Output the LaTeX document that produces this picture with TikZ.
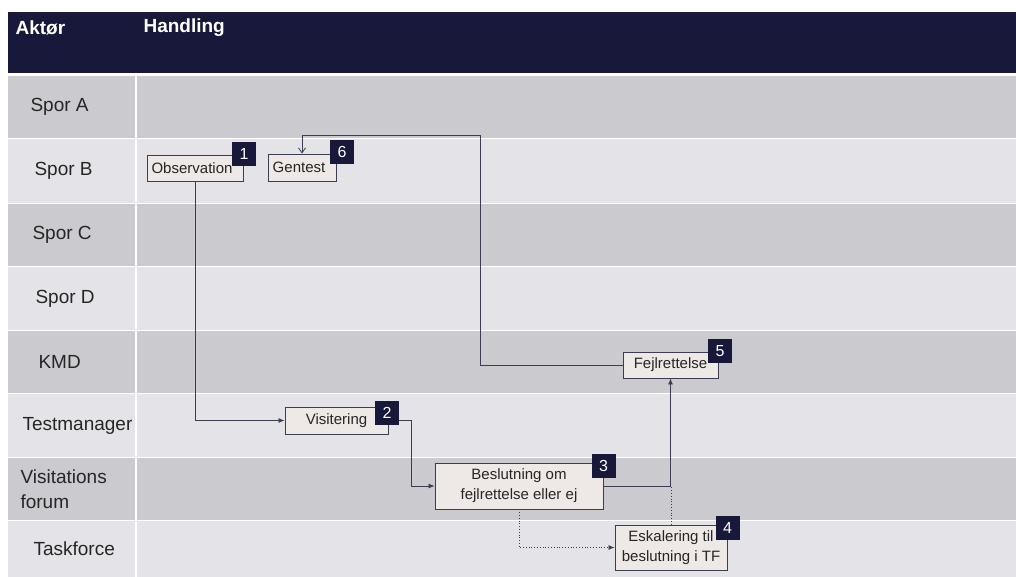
\documentclass[tikz,border=0pt]{standalone}
\usepackage{fontspec}
\setmainfont{Liberation Sans}
\usetikzlibrary{arrows.meta}

\definecolor{navy}{HTML}{18183A}
\definecolor{rowdark}{HTML}{CACACF}
\definecolor{rowlight}{HTML}{E4E4E8}
\definecolor{boxfill}{HTML}{EEE8E6}
\definecolor{boxline}{HTML}{3C3C52}

\begin{document}
\begin{tikzpicture}[x=1pt,y=-1pt,
    actbox/.style={draw=boxline,fill=boxfill,line width=0.9pt,inner sep=0pt,
        align=center,text=black!85,font=\fontsize{15}{20}\selectfont},
    badge/.style={fill=navy,text=white,minimum size=24pt,inner sep=0pt,
        font=\fontsize{16}{16}\selectfont},
    actor/.style={anchor=west,align=left,text=black!85,font=\fontsize{19}{25}\selectfont},
    head/.style={anchor=west,text=white,font=\bfseries\fontsize{19}{19}\selectfont},
    link/.style={draw=boxline,line width=0.8pt,-{Latex[length=6pt,width=5pt]}},
    dotlink/.style={link,dotted}]
    \useasboundingbox (0,0) rectangle (1016,577);

    % header
    \fill[navy] (8,12) rectangle (1016,73);
    \node[head] (aktor) at (12,28) {Aktør};
    \node[head] (handling) at (140,28) {Handling};

    % lanes
    \foreach \top/\bot/\col/\lx/\lab in {
        76/138/rowdark/27/{Spor A},
        139/203/rowlight/31/{Spor B},
        204/266/rowdark/29/{Spor C},
        267/330/rowlight/32/{Spor D},
        331/393/rowdark/35/{KMD},
        394/457/rowlight/19/{Testmanager},
        458/520/rowdark/17/{Visitations\\forum},
        521/577/rowlight/30/{Taskforce}} {
        \fill[\col] (8,\top) rectangle (135,\bot);
        \fill[\col] (137,\top) rectangle (1016,\bot);
        \node[actor] at (\lx,{(\top+\bot)/2}) {\lab};
    }

    % steps
    \node[actbox,minimum width=96pt,minimum height=26pt] (obs) at (195,168) {Observation\hspace{6pt}};
    \node[actbox,minimum width=68pt,minimum height=27pt] (gen) at (302,167.5) {Gentest\hspace{6pt}};
    \node[actbox,minimum width=103pt,minimum height=27pt] (vis) at (336.5,420.5) {Visitering};
    \node[actbox,minimum width=168pt,minimum height=46pt] (bes) at (519,486) {Beslutning om\\fejlrettelse eller ej};
    \node[actbox,minimum width=112pt,minimum height=45pt] (esk) at (671,547.5) {Eskalering til\\beslutning i TF};
    \node[actbox,minimum width=95pt,minimum height=26pt] (fej) at (670.5,365) {Fejlrettelse};
    \coordinate (turn) at (480,135);

    % flow
    \draw[link] (obs.south) |- (vis.west);
    \draw[link] (vis.east) -- ++(23,0) |- (bes.west);
    \draw[link] (bes.east) -| (fej.south);
    \draw[dotlink] (bes.south) |- (esk.west);
    \draw[boxline,line width=0.8pt,dotted] (esk.north) -- (esk.north |- bes.east);
    \draw[link,-{Straight Barb[length=5pt,width=7pt]}] (fej.west) -| (turn) -| (gen.north);

    % numbers
    \node[badge] (n1) at (244,154) {1};
    \node[badge] (n6) at (342,152) {6};
    \node[badge] (n2) at (387,412.5) {2};
    \node[badge] (n3) at (603.5,466) {3};
    \node[badge] (n4) at (727.5,528) {4};
    \node[badge] (n5) at (720,351) {5};
\end{tikzpicture}
\end{document}
